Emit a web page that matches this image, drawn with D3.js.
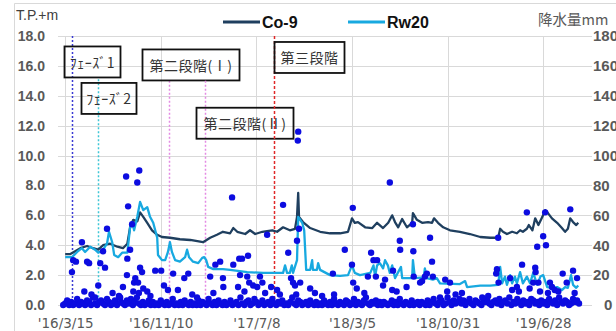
<!DOCTYPE html>
<html>
<head>
<meta charset="utf-8">
<script src="https://cdn.jsdelivr.net/npm/d3@7"></script>
<style>
  body { margin: 0; background: #fff; }
  svg { display: block; }
</style>
</head>
<body>
<svg id="chart" width="616" height="331"></svg>
<script>
// --- data ---
const co9 = [
  ['2016-03-15', 3.4], ['2016-03-27', 3.4], ['2016-04-22', 3.8], ['2016-05-09', 3.95], ['2016-05-24', 3.8],
  ['2016-06-06', 3.7], ['2016-06-18', 4.0], ['2016-07-06', 4.1], ['2016-07-24', 3.9], ['2016-08-07', 3.8],
  ['2016-08-18', 4.1], ['2016-08-25', 5.2], ['2016-09-02', 5.7], ['2016-09-12', 5.6], ['2016-09-19', 6.2],
  ['2016-09-27', 5.9], ['2016-10-07', 5.5], ['2016-10-19', 5.0], ['2016-11-01', 4.7], ['2016-11-13', 4.55],
  ['2016-12-03', 4.5], ['2016-12-28', 4.4], ['2017-01-23', 4.35], ['2017-02-24', 4.2], ['2017-03-14', 4.5],
  ['2017-03-31', 4.7], ['2017-04-15', 4.9], ['2017-05-03', 4.8], ['2017-05-11', 5.15], ['2017-05-21', 4.9],
  ['2017-06-10', 4.75], ['2017-06-22', 5.0], ['2017-07-05', 4.75], ['2017-07-23', 4.9], ['2017-08-04', 4.95],
  ['2017-08-17', 5.0], ['2017-08-29', 4.9], ['2017-09-13', 5.2], ['2017-09-30', 5.0], ['2017-10-13', 5.1],
  ['2017-10-18', 5.9], ['2017-10-21', 7.5], ['2017-10-23', 5.9], ['2017-11-02', 5.55], ['2017-11-20', 5.15],
  ['2017-12-15', 4.9], ['2018-01-09', 4.8], ['2018-02-03', 4.8], ['2018-02-23', 4.9], ['2018-03-05', 5.8],
  ['2018-03-12', 5.5], ['2018-03-20', 5.55], ['2018-04-07', 5.2], ['2018-04-25', 5.15], ['2018-05-07', 5.5],
  ['2018-05-22', 5.15], ['2018-06-04', 5.5], ['2018-06-14', 6.0], ['2018-06-21', 5.55], ['2018-06-29', 5.2],
  ['2018-07-09', 5.75], ['2018-07-21', 5.2], ['2018-08-03', 5.5], ['2018-08-05', 6.15], ['2018-08-15', 5.7],
  ['2018-08-28', 5.5], ['2018-09-12', 5.55], ['2018-09-22', 5.5], ['2018-09-27', 5.8], ['2018-10-07', 5.5],
  ['2018-10-20', 5.2], ['2018-11-06', 5.0], ['2018-12-01', 4.9], ['2018-12-26', 4.75], ['2019-01-21', 4.55],
  ['2019-02-15', 4.5], ['2019-03-07', 4.5], ['2019-03-12', 5.1], ['2019-03-19', 4.9], ['2019-03-29', 4.75],
  ['2019-04-11', 4.9], ['2019-04-23', 4.8], ['2019-05-01', 5.0], ['2019-05-08', 4.9], ['2019-05-18', 5.1],
  ['2019-05-23', 5.35], ['2019-06-01', 5.0], ['2019-06-08', 5.8], ['2019-06-16', 5.35], ['2019-06-26', 5.9],
  ['2019-07-03', 6.35], ['2019-07-10', 6.15], ['2019-07-20', 5.8], ['2019-08-02', 5.5], ['2019-08-14', 5.15],
  ['2019-08-22', 4.9], ['2019-08-29', 5.1], ['2019-09-04', 5.8], ['2019-09-11', 5.55], ['2019-09-19', 5.35],
  ['2019-09-24', 5.5]
];

const rw20 = [
  ['2016-03-15', 3.2], ['2016-04-01', 3.2], ['2016-04-14', 3.55], ['2016-04-26', 3.8], ['2016-05-04', 3.55],
  ['2016-05-17', 3.9], ['2016-05-29', 3.7], ['2016-06-06', 3.5], ['2016-06-18', 3.7], ['2016-06-28', 4.1],
  ['2016-07-03', 4.9], ['2016-07-11', 4.2], ['2016-07-16', 3.35], ['2016-07-26', 3.2], ['2016-08-05', 3.5],
  ['2016-08-18', 3.5], ['2016-08-25', 5.2], ['2016-08-30', 5.55], ['2016-09-04', 5.0], ['2016-09-12', 5.9],
  ['2016-09-19', 6.9], ['2016-09-27', 6.35], ['2016-10-07', 6.55], ['2016-10-14', 5.9], ['2016-10-22', 5.5],
  ['2016-10-27', 5.0], ['2016-11-01', 4.5], ['2016-11-03', 3.35], ['2016-11-13', 3.0], ['2016-11-21', 3.0],
  ['2016-11-28', 3.55], ['2016-12-03', 4.2], ['2016-12-08', 3.55], ['2016-12-16', 3.0], ['2016-12-28', 2.9],
  ['2017-01-10', 3.2], ['2017-01-15', 3.7], ['2017-01-20', 3.2], ['2017-01-30', 2.9], ['2017-02-12', 2.8],
  ['2017-02-22', 3.15], ['2017-02-27', 3.2], ['2017-03-04', 3.0], ['2017-03-09', 2.55], ['2017-03-22', 2.4],
  ['2017-04-15', 2.4], ['2017-05-03', 2.35], ['2017-06-15', 2.2], ['2017-07-25', 2.15], ['2017-08-29', 2.15],
  ['2017-09-13', 2.15], ['2017-09-18', 2.65], ['2017-09-23', 2.15], ['2017-09-30', 2.15], ['2017-10-05', 2.65],
  ['2017-10-08', 2.15], ['2017-10-18', 3.0], ['2017-10-21', 5.9], ['2017-10-26', 5.7], ['2017-10-31', 5.5],
  ['2017-11-05', 5.0], ['2017-11-10', 2.35], ['2017-11-20', 2.35], ['2017-11-25', 3.0], ['2017-11-27', 2.35],
  ['2017-12-07', 2.35], ['2017-12-10', 2.8], ['2017-12-15', 2.35], ['2018-01-09', 2.0], ['2018-02-03', 1.95],
  ['2018-02-23', 2.0], ['2018-03-05', 2.65], ['2018-03-12', 2.15], ['2018-03-25', 2.0], ['2018-04-20', 2.15],
  ['2018-04-28', 2.65], ['2018-05-02', 1.9], ['2018-05-07', 2.65], ['2018-05-14', 2.8], ['2018-05-22', 2.45],
  ['2018-05-27', 3.0], ['2018-06-03', 2.65], ['2018-06-08', 2.15], ['2018-06-14', 2.65], ['2018-06-21', 1.8],
  ['2018-07-06', 2.55], ['2018-07-09', 1.8], ['2018-08-03', 1.8], ['2018-08-05', 3.0], ['2018-08-10', 1.8],
  ['2018-09-01', 1.85], ['2018-09-04', 2.45], ['2018-09-09', 1.8], ['2018-09-24', 1.7], ['2018-10-04', 1.8],
  ['2018-10-12', 1.45], ['2018-12-01', 1.4], ['2018-12-14', 1.6], ['2018-12-19', 1.2], ['2019-01-21', 1.3],
  ['2019-02-15', 1.3], ['2019-03-07', 1.35], ['2019-03-12', 2.55], ['2019-03-17', 1.45], ['2019-03-24', 1.9],
  ['2019-03-29', 1.35], ['2019-04-06', 2.0], ['2019-04-11', 1.45], ['2019-04-18', 1.9], ['2019-04-23', 1.45],
  ['2019-05-01', 2.2], ['2019-05-08', 1.45], ['2019-05-18', 1.9], ['2019-05-26', 1.45], ['2019-06-03', 2.15],
  ['2019-06-13', 1.35], ['2019-06-21', 1.9], ['2019-06-28', 2.0], ['2019-07-08', 1.2], ['2019-07-20', 1.15],
  ['2019-08-02', 1.2], ['2019-08-14', 1.0], ['2019-08-22', 1.2], ['2019-08-29', 1.15], ['2019-09-06', 2.0],
  ['2019-09-11', 1.35], ['2019-09-19', 1.15], ['2019-09-24', 1.3]
];

// rainfall (mm), the scattered dots
const rainPeaks = [
  ['2016-04-01', 22], ['2016-04-04', 30], ['2016-04-11', 29], ['2016-04-26', 42], ['2016-05-02', 9],
  ['2016-05-09', 29], ['2016-05-14', 28], ['2016-05-29', 5], ['2016-06-06', 13], ['2016-06-11', 28],
  ['2016-06-18', 36], ['2016-06-23', 25], ['2016-06-28', 51], ['2016-07-31', 5], ['2016-08-07', 12],
  ['2016-08-15', 86], ['2016-08-17', 20], ['2016-08-18', 31], ['2016-08-20', 66], ['2016-08-25', 37],
  ['2016-08-30', 54], ['2016-09-02', 9], ['2016-09-04', 15], ['2016-09-07', 18], ['2016-09-12', 82],
  ['2016-09-14', 15], ['2016-09-16', 8], ['2016-09-17', 90], ['2016-09-19', 25], ['2016-09-24', 22],
  ['2016-09-27', 11], ['2016-10-07', 9], ['2016-10-27', 23], ['2016-11-11', 23], ['2016-11-18', 13],
  ['2016-11-28', 10], ['2016-12-11', 21], ['2016-12-23', 10], ['2017-01-08', 18], ['2017-01-18', 21],
  ['2017-02-09', 5], ['2017-03-14', 19], ['2017-03-22', 8], ['2017-03-27', 27], ['2017-04-08', 29],
  ['2017-04-15', 18], ['2017-04-16', 12], ['2017-05-08', 72], ['2017-05-11', 27], ['2017-05-23', 12],
  ['2017-05-26', 31], ['2017-05-28', 20], ['2017-06-02', 31], ['2017-06-15', 19], ['2017-06-17', 33],
  ['2017-06-20', 15], ['2017-06-30', 13], ['2017-07-10', 12], ['2017-07-17', 19], ['2017-07-23', 15],
  ['2017-07-30', 8], ['2017-08-04', 47], ['2017-08-14', 12], ['2017-08-29', 10], ['2017-09-13', 67],
  ['2017-09-26', 35], ['2017-10-03', 18], ['2017-10-08', 15], ['2017-10-13', 13], ['2017-10-16', 7],
  ['2017-10-18', 43], ['2017-10-20', 110], ['2017-10-21', 116], ['2017-10-23', 51], ['2017-10-26', 15],
  ['2017-11-20', 11], ['2017-12-02', 8], ['2018-01-16', 21], ['2018-01-19', 7], ['2018-02-15', 37],
  ['2018-03-05', 27], ['2018-03-07', 65], ['2018-03-08', 15], ['2018-03-17', 11], ['2018-04-14', 19],
  ['2018-04-22', 35], ['2018-04-28', 30], ['2018-05-04', 19], ['2018-05-07', 30], ['2018-05-22', 13],
  ['2018-05-27', 17], ['2018-06-08', 82], ['2018-06-14', 10], ['2018-06-16', 23], ['2018-07-03', 43],
  ['2018-07-04', 37], ['2018-08-05', 54], ['2018-08-06', 36], ['2018-08-07', 19], ['2018-08-23', 15],
  ['2018-08-28', 16], ['2018-09-04', 19], ['2018-09-09', 21], ['2018-09-17', 45], ['2018-09-22', 29],
  ['2018-09-24', 19], ['2018-10-12', 5], ['2018-10-25', 17], ['2018-10-30', 9], ['2018-11-06', 15],
  ['2018-12-06', 8], ['2019-01-26', 5], ['2019-03-02', 21], ['2019-03-04', 24], ['2019-03-07', 45],
  ['2019-03-08', 15], ['2019-04-06', 18], ['2019-04-11', 10], ['2019-04-23', 12], ['2019-05-06', 27],
  ['2019-05-18', 62], ['2019-06-03', 15], ['2019-06-08', 25], ['2019-06-09', 22], ['2019-06-13', 39],
  ['2019-06-16', 15], ['2019-06-28', 46], ['2019-07-03', 62], ['2019-07-05', 40], ['2019-07-15', 15],
  ['2019-07-20', 12], ['2019-07-27', 10], ['2019-08-16', 21], ['2019-08-26', 15], ['2019-09-04', 64],
  ['2019-09-11', 23], ['2019-09-21', 18],
  ['2016-05-20', 7], ['2016-07-12', 8], ['2016-10-15', 6], ['2017-01-28', 7], ['2017-06-08', 9],
  ['2017-09-05', 7], ['2017-12-20', 6], ['2018-04-05', 8], ['2018-06-25', 9], ['2018-07-20', 12],
  ['2018-11-20', 7], ['2019-02-10', 6], ['2019-04-28', 9], ['2019-05-25', 11], ['2019-06-20', 9],
  ['2019-07-10', 8], ['2019-08-05', 9], ['2019-09-15', 8]
];

// rainfall (mm), the dense band near zero, one value every 5 days
const rainBaseStart = '2016-03-10';
const rainBaseStep = 5;
const rainBase = [
  0,1,3,0,2,0,1,4,0,2,1,0,3,2,0,5,1,0,2,3,
  1,0,4,2,0,1,3,0,6,2,1,0,3,1,4,0,2,5,1,0,
  2,0,1,3,0,2,0,1,0,3,1,0,2,0,1,4,0,1,0,2,
  0,3,1,0,2,0,1,0,3,0,2,1,0,4,1,0,2,0,3,1,
  0,2,0,1,3,0,1,2,0,5,1,0,2,3,0,1,4,2,0,1,
  3,0,1,2,0,4,1,0,2,1,3,0,1,0,2,5,1,0,3,2,
  0,1,2,0,3,1,0,2,0,1,0,3,1,0,2,0,4,1,0,2,
  1,0,3,2,0,1,4,0,2,1,0,3,5,1,0,2,1,3,0,2,
  0,2,1,0,1,3,0,2,0,4,1,0,2,1,0,3,0,1,2,0,
  2,1,0,3,0,2,4,1,0,2,3,0,1,5,2,0,3,1,2,4,
  1,3,0,2,4,1,0,3,2,1,0,4,2,3,1,0,2,3,1,4,
  0,2,3,1,5,0,2,1,4,2,0,3,1,2,0,4,3,1,2,0,
  3,1,2,0,4,2,1,3,0,5,2,1,3,2,0,1,4,2,3,1
];

const xTickDates = ['2016-03-15', '2016-11-10', '2017-07-08', '2018-03-05', '2018-10-31', '2019-06-28'];
const xTickLabels = ["'16/3/15", "'16/11/10", "'17/7/8", "'18/3/5", "'18/10/31", "'19/6/28"];
const levelTicks = [0, 2, 4, 6, 8, 10, 12, 14, 16, 18];
const rainTicks = [0, 20, 40, 60, 80, 100, 120, 140, 160, 180];

const stageLabels = ['ﾌｪｰｽﾞ1', 'ﾌｪｰｽﾞ2', '第二段階(Ⅰ)', '第二段階(Ⅱ)', '第三段階'];
const stageDates = ['2016-04-01', '2016-06-06', '2016-12-01', '2017-03-01', '2017-08-20'];

// --- look ---
const stageStyle = [
  { color: '#3b3bd4', dash: '2,2', from: 18, boxDx: -8, boxTop: 17.3, boxW: 56 },
  { color: '#3ec6d6', dash: '2,2', from: 15.1, boxDx: -17, boxTop: 14.86, boxW: 55 },
  { color: '#e48ae4', dash: '2,2', from: 15.0, boxDx: -27, boxTop: 17.1, boxW: 97 },
  { color: '#e48ae4', dash: '2,2', from: 15.0, boxDx: -9, boxTop: 13.2, boxW: 97 },
  { color: '#e02828', dash: '3,2', from: 18, boxDx: 0, boxTop: 17.6, boxW: 70 }
];
const boxH = 31;
const grey = '#d9d9d9';
const labelColor = '#595959';
const co9Color = '#1f3f5f';
const rw20Color = '#18a9e0';
const rainColor = '#0c0ce0';
const axisFont = 'bold 14px "Liberation Sans", Arial, sans-serif';

const parse = d3.timeParse('%Y-%m-%d');
const svg = d3.select('#chart');

const x = d3.scaleTime()
  .domain([parse('2016-03-07'), parse('2019-10-16')])
  .range([62, 587]);
const y = d3.scaleLinear().domain([0, 18]).range([305, 36]);
const yRain = d3.scaleLinear().domain([0, 180]).range([305, 36]);

// outer frame
svg.append('path')
  .attr('d', 'M14.5,331V3.5H616')
  .attr('fill', 'none')
  .attr('stroke', grey);

// horizontal grid
svg.append('g')
  .selectAll('line')
  .data(levelTicks)
  .join('line')
  .attr('x1', 58).attr('x2', 592)
  .attr('y1', d => Math.round(y(d)) + 0.5)
  .attr('y2', d => Math.round(y(d)) + 0.5)
  .attr('stroke', grey);

// vertical grid
svg.append('g')
  .selectAll('line')
  .data(xTickDates)
  .join('line')
  .attr('x1', d => Math.round(x(parse(d))) + 0.5)
  .attr('x2', d => Math.round(x(parse(d))) + 0.5)
  .attr('y1', y(18)).attr('y2', y(0))
  .attr('stroke', grey);

// left axis
const leftAxis = svg.append('g')
  .attr('transform', 'translate(62,0)')
  .call(d3.axisLeft(y).tickValues(levelTicks).tickFormat(d3.format('.1f')).tickSize(0).tickPadding(17));
leftAxis.select('.domain').remove();
leftAxis.selectAll('text')
  .attr('fill', labelColor)
  .style('font', axisFont);

// right axis: 1-2 digit labels end at the same edge, 3-digit ones run off the page
const rightAxis = svg.append('g')
  .attr('transform', 'translate(587,0)')
  .call(d3.axisRight(yRain).tickValues(rainTicks).tickSize(0).tickPadding(6));
rightAxis.select('.domain').remove();
rightAxis.selectAll('text')
  .attr('fill', labelColor)
  .style('font', 'bold 15px "Liberation Sans", Arial, sans-serif')
  .attr('x', d => d < 10 ? 17 : 6);

// bottom axis
const bottomAxis = svg.append('g')
  .attr('transform', 'translate(0,305)')
  .call(d3.axisBottom(x)
    .tickValues(xTickDates.map(parse))
    .tickFormat((d, i) => xTickLabels[i])
    .tickSize(0).tickPadding(13));
bottomAxis.select('.domain').remove();
bottomAxis.selectAll('text')
  .attr('fill', labelColor)
  .style('font', '13.5px "DejaVu Sans", sans-serif');

// stage lines and boxes
const stageG = svg.append('g');
stageLabels.forEach((label, i) => {
  const s = stageStyle[i];
  const lx = Math.round(x(parse(stageDates[i]))) + 0.5;
  stageG.append('line')
    .attr('x1', lx).attr('x2', lx)
    .attr('y1', y(s.from)).attr('y2', y(0))
    .attr('stroke', s.color)
    .attr('stroke-width', 1.5)
    .attr('stroke-dasharray', s.dash);
  const bx = lx + s.boxDx;
  const by = y(s.boxTop);
  stageG.append('rect')
    .attr('x', bx).attr('y', by)
    .attr('width', s.boxW).attr('height', boxH)
    .attr('fill', 'none')
    .attr('stroke', '#111')
    .attr('stroke-width', 1.8);
  stageG.append('text')
    .attr('x', bx + s.boxW / 2)
    .attr('y', by + boxH / 2)
    .attr('text-anchor', 'middle')
    .attr('dominant-baseline', 'central')
    .attr('fill', '#333')
    .style('font', '14px "Noto Sans CJK JP", sans-serif')
    .style('letter-spacing', '0.5px')
    .text(label);
});

// lines
const line = d3.line()
  .x(d => x(parse(d[0])))
  .y(d => y(d[1]));

svg.append('path')
  .datum(co9)
  .attr('fill', 'none')
  .attr('stroke', co9Color)
  .attr('stroke-width', 2.3)
  .attr('stroke-linejoin', 'round')
  .attr('d', line);

svg.append('path')
  .datum(rw20)
  .attr('fill', 'none')
  .attr('stroke', rw20Color)
  .attr('stroke-width', 2.3)
  .attr('stroke-linejoin', 'round')
  .attr('d', line);

// rainfall dots
const baseStart = parse(rainBaseStart);
const rainAll = rainBase
  .map((v, i) => [d3.timeDay.offset(baseStart, i * rainBaseStep), v])
  .concat(rainPeaks.map(d => [parse(d[0]), d[1]]));

svg.append('g')
  .selectAll('circle')
  .data(rainAll)
  .join('circle')
  .attr('cx', d => x(d[0]))
  .attr('cy', d => yRain(d[1]))
  .attr('r', 3.2)
  .attr('fill', rainColor);

// titles
svg.append('text')
  .attr('x', 16).attr('y', 20)
  .attr('fill', '#404040')
  .style('font', '14px "Liberation Sans", Arial, sans-serif')
  .text('T.P.+m');

svg.append('text')
  .attr('x', 538).attr('y', 25)
  .attr('fill', labelColor)
  .style('font', '14.5px "Noto Sans CJK JP", sans-serif')
  .text('降水量mm');

// legend
const legend = [
  { name: 'Co-9', color: co9Color, x: 223 },
  { name: 'Rw20', color: rw20Color, x: 348 }
];
legend.forEach(l => {
  svg.append('line')
    .attr('x1', l.x).attr('x2', l.x + 37)
    .attr('y1', 22).attr('y2', 22)
    .attr('stroke', l.color)
    .attr('stroke-width', 3);
  svg.append('text')
    .attr('x', l.x + 39).attr('y', 28)
    .attr('fill', '#111')
    .style('font', 'bold 16px "Liberation Sans", Arial, sans-serif')
    .text(l.name);
});
</script>
</body>
</html>
